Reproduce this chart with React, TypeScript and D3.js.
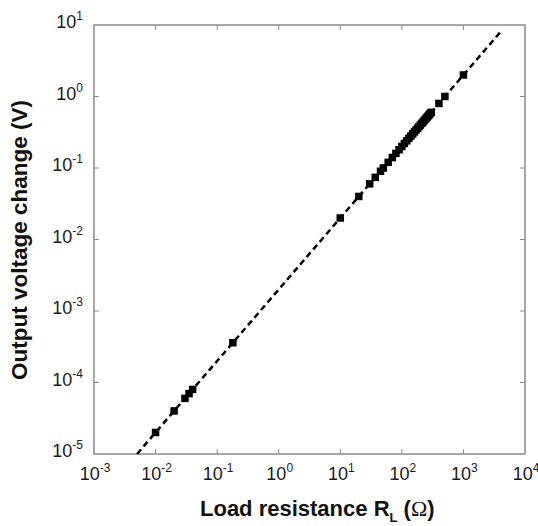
import React from "react";
import * as d3 from "d3";

// load resistance (ohm) and measured output voltage change (V)
const resistance = [
  0.01, 0.02, 0.03, 0.035, 0.04, 0.18, 10, 20, 30, 37, 45, 50, 60, 70, 80, 90, 100, 110, 120,
  130, 140, 150, 160, 170, 180, 190, 200, 210, 220, 230, 240, 250, 260, 270, 280, 290, 300,
  400, 500, 1000,
];
const voltage = [
  2e-5, 4e-5, 6e-5, 7e-5, 8e-5, 3.6e-4, 0.02, 0.04, 0.06, 0.074, 0.09, 0.1, 0.12, 0.14, 0.16,
  0.18, 0.2, 0.22, 0.24, 0.26, 0.28, 0.3, 0.32, 0.34, 0.36, 0.38, 0.4, 0.42, 0.44, 0.46, 0.48,
  0.5, 0.52, 0.54, 0.56, 0.58, 0.6, 0.8, 1, 2,
];
// dashed fit line end points
const fitR = [0.005, 4100];
const fitV = [1e-5, 8.2];

const xExp = [-3, -2, -1, 0, 1, 2, 3, 4];
const yExp = [1, 0, -1, -2, -3, -4, -5];

const W = 538;
const H = 526;
const M = { left: 94, right: 13, top: 25, bottom: 72 };

export default function App() {
  const x = d3.scaleLog().domain([1e-3, 1e4]).range([M.left, W - M.right]);
  const y = d3.scaleLog().domain([1e-5, 1e1]).range([H - M.bottom, M.top]);
  const line = d3
    .line<number>()
    .x((_, i) => x(fitR[i]))
    .y((d) => y(d));
  const frame = "#8c8c8c";
  const font = "'Liberation Sans', Arial, sans-serif";
  const x0 = x.range()[0];
  const x1 = x.range()[1];
  const y0 = y.range()[0];
  const y1 = y.range()[1];
  const tick = 5;
  const ms = 7.5;

  return (
    <svg
      width={W}
      height={H}
      style={{ position: "absolute", left: 0, top: 0, background: "#fff" }}
      fontFamily={font}
    >
      {/* frame */}
      <rect x={x0} y={y1} width={x1 - x0} height={y0 - y1} fill="none" stroke={frame} strokeWidth={1.5} />

      {/* x ticks */}
      {xExp.map((e) => {
        const px = x(Math.pow(10, e));
        return (
          <g key={"x" + e}>
            {e > -3 && e < 4 && (
              <>
                <line x1={px} x2={px} y1={y0} y2={y0 - tick} stroke={frame} strokeWidth={1} />
                <line x1={px} x2={px} y1={y1} y2={y1 + tick} stroke={frame} strokeWidth={1} />
              </>
            )}
            <text x={px + 1} y={y0 + 26} textAnchor="middle" fontSize={18} fill="#1a1a1a">
              10
              <tspan fontSize={12} dy={-8}>
                {e}
              </tspan>
            </text>
          </g>
        );
      })}

      {/* y ticks */}
      {yExp.map((e) => {
        const py = y(Math.pow(10, e));
        return (
          <g key={"y" + e}>
            {e > -5 && e < 1 && (
              <>
                <line x1={x0} x2={x0 + tick} y1={py} y2={py} stroke={frame} strokeWidth={1} />
                <line x1={x1} x2={x1 - tick} y1={py} y2={py} stroke={frame} strokeWidth={1} />
              </>
            )}
            <text x={83} y={py + 3} textAnchor="end" fontSize={18} fill="#1a1a1a">
              10
              <tspan fontSize={12} dy={-8}>
                {e}
              </tspan>
            </text>
          </g>
        );
      })}

      {/* fit line */}
      <path d={line(fitV) || ""} fill="none" stroke="#000" strokeWidth={2.5} strokeDasharray="6,4" />

      {/* data markers */}
      {resistance.map((r, i) => (
        <rect
          key={"m" + i}
          x={x(r) - ms / 2}
          y={y(voltage[i]) - ms / 2}
          width={ms}
          height={ms}
          fill="#000"
        />
      ))}

      {/* axis titles */}
      <text x={200} y={516} fontSize={22} fontWeight="bold" fill="#111">
        Load resistance R
        <tspan fontSize={13} dy={6}>L</tspan>
        <tspan dy={-6}>{"  "}</tspan>
        <tspan>(</tspan>
        <tspan fontWeight="normal" fontFamily="'Liberation Serif', serif">Ω</tspan>
        <tspan>)</tspan>
      </text>
      <text
        transform={`translate(27, 240) rotate(-90)`}
        textAnchor="middle"
        fontSize={22.5}
        fontWeight="bold"
        fill="#111"
      >
        Output voltage change (V)
      </text>
    </svg>
  );
}
